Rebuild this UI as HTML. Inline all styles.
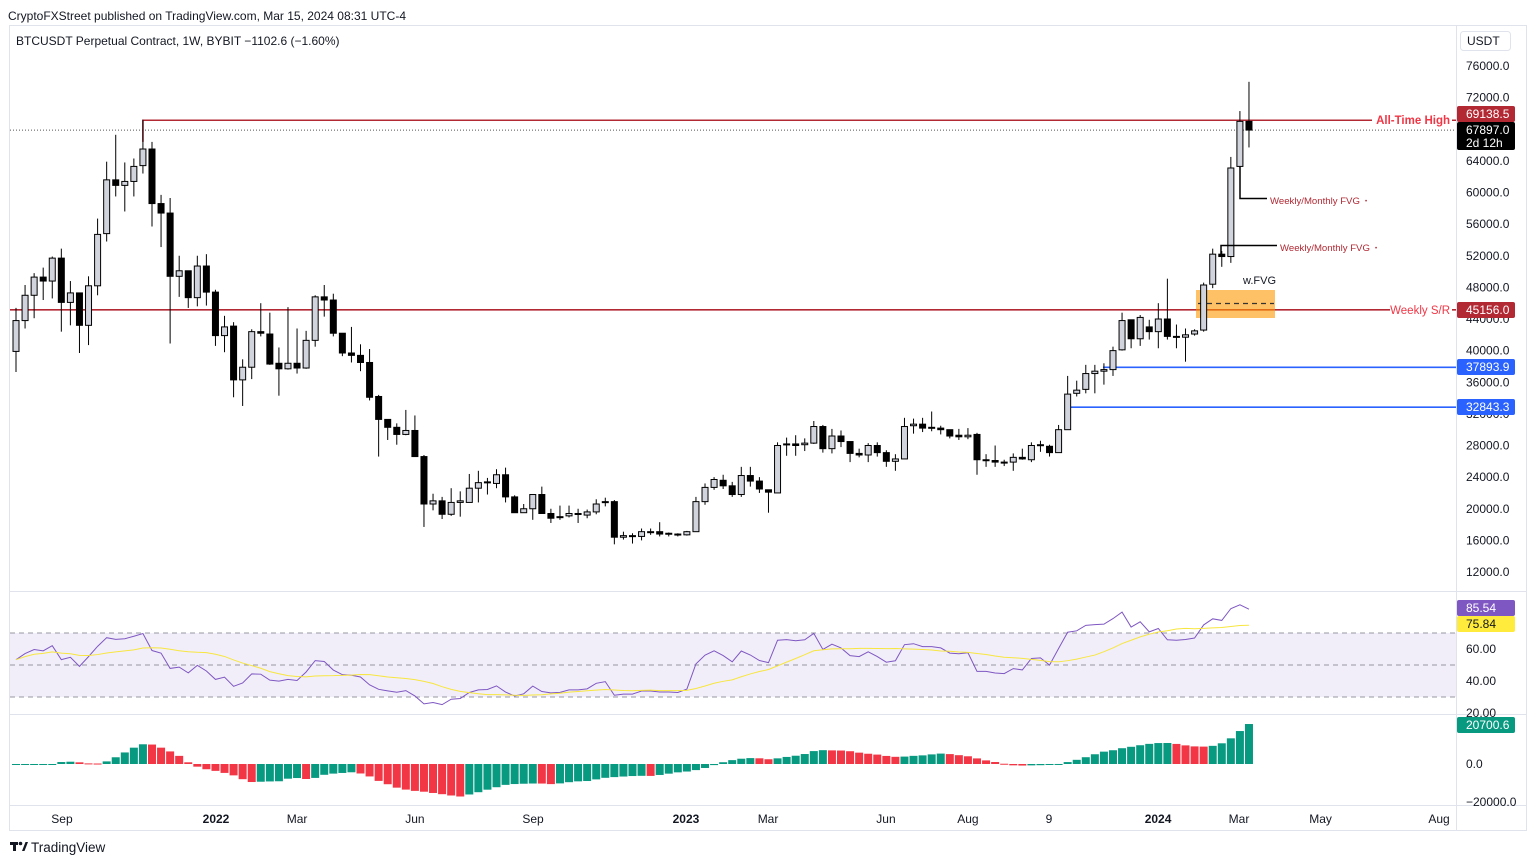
<!DOCTYPE html>
<html><head><meta charset="utf-8"><style>
html,body{margin:0;padding:0;background:#fff;}
svg{display:block;font-family:"Liberation Sans",sans-serif;}
</style></head><body>
<svg id="chart" width="1536" height="864" viewBox="0 0 1536 864" xmlns="http://www.w3.org/2000/svg">
<rect x="0" y="0" width="1536" height="864" fill="#fff"/>
<text x="8" y="20" font-size="12" fill="#131722">CryptoFXStreet published on TradingView.com, Mar 15, 2024 08:31 UTC-4</text>
<g stroke="#e0e3eb" stroke-width="1" fill="none">
<rect x="9.5" y="25.5" width="1517" height="805"/>
<line x1="1456.5" y1="25" x2="1456.5" y2="830"/>
<line x1="9" y1="591.5" x2="1527" y2="591.5"/>
<line x1="9" y1="714.5" x2="1527" y2="714.5"/>
<line x1="9" y1="805.5" x2="1527" y2="805.5"/>
</g>
<text x="16" y="45" font-size="12" fill="#131722">BTCUSDT Perpetual Contract, 1W, BYBIT  −1102.6 (−1.60%)</text>
<rect x="1460.5" y="31.5" width="50" height="19" rx="3" fill="#fff" stroke="#e0e3eb"/>
<text x="1467" y="45" font-size="12" fill="#131722">USDT</text>
<g id="rsi-band"></g>
<g id="main"></g>
<g id="rsi"></g>
<g id="ao"></g>
<g id="axes"></g>
<g id="labels"></g>
<g>
<rect x="10" y="842" width="8" height="3" fill="#131722"/>
<rect x="13" y="842" width="3" height="9" fill="#131722"/>
<circle cx="20.5" cy="843.5" r="1.8" fill="#131722"/>
<polygon points="22,851 25.5,842 28,842 24.5,851" fill="#131722"/>
<text x="31" y="852" font-size="13.5" fill="#131722">TradingView</text>
</g>
</svg>
<script>
const NS="http://www.w3.org/2000/svg";
const opens=[39.9,43.8,47.0,49.3,48.8,51.7,46.1,47.3,43.2,48.2,54.8,61.6,60.9,61.4,63.4,65.5,58.6,57.4,49.4,50.1,46.7,50.7,47.4,41.9,43.1,36.3,37.9,42.4,42.1,38.4,37.7,38.4,37.8,41.3,46.8,46.4,42.2,39.7,39.4,38.5,34.2,31.3,30.3,29.4,29.9,26.6,20.6,21.0,19.3,20.8,20.8,22.6,23.3,23.2,24.3,21.5,19.5,20.0,21.8,19.4,19.0,19.1,19.3,19.2,19.6,20.8,20.9,16.4,16.5,16.5,17.0,17.1,16.9,16.8,16.7,17.1,20.9,22.7,23.6,22.9,21.8,24.2,23.5,22.4,22.0,28.1,28.2,28.1,28.3,30.4,27.6,29.2,28.5,27.0,26.8,28.0,27.1,26.0,26.3,30.5,30.7,30.3,30.2,30.0,29.3,29.1,29.4,26.1,26.1,25.9,25.9,26.5,26.2,28.0,27.9,27.1,30.0,34.6,35.1,37.1,37.4,37.6,40.1,43.9,41.5,43.0,42.4,44.0,41.8,41.7,42.1,42.6,48.4,52.2,51.9,63.3,69.0];
const highs=[45.4,48.3,49.8,50.5,51.9,52.9,48.8,47.3,49.4,56.7,63.9,67.3,63.8,64.3,69.2,66.4,59.7,59.3,52.0,50.1,52.0,52.2,47.7,44.4,43.6,38.9,42.7,46.0,44.8,40.4,45.5,42.8,42.5,47.0,48.3,47.2,42.2,43.0,40.8,40.2,34.4,31.3,30.8,32.5,31.8,26.8,21.9,21.5,22.6,22.2,24.4,24.8,23.9,25.0,25.2,21.7,20.6,21.8,22.8,20.0,20.4,20.4,20.0,19.9,21.2,21.4,21.1,17.1,16.9,17.5,17.5,18.3,17.0,16.9,17.2,21.5,23.2,24.0,24.3,23.4,25.3,25.3,24.0,22.4,28.4,29.0,29.3,28.9,31.1,30.6,30.1,29.9,28.5,27.6,28.3,28.4,27.4,26.9,31.5,31.4,31.5,32.3,30.5,30.0,30.1,30.2,29.6,26.9,28.0,26.2,27.0,27.6,28.4,28.6,28.1,30.6,36.8,36.2,38.2,38.2,38.4,40.5,44.8,43.9,44.5,43.9,46.0,49.1,43.3,42.8,42.7,48.6,52.9,52.6,64.5,70.3,74.0];
const lows=[37.3,42.8,44.1,46.4,46.6,42.4,43.2,39.7,40.7,47.0,53.8,59.5,57.6,59.5,62.4,55.7,53.1,40.9,46.8,45.4,45.6,45.7,40.6,39.8,34.1,33.0,36.4,41.8,38.2,34.3,37.6,37.1,37.7,40.5,44.3,41.8,39.3,38.5,37.4,33.7,26.6,28.7,28.1,29.3,26.6,17.7,19.8,18.7,19.1,19.0,20.8,20.8,21.8,22.6,20.8,19.5,19.5,18.6,19.4,18.2,18.6,18.9,18.2,18.8,19.3,20.3,15.5,16.1,15.6,16.0,16.7,16.5,16.5,16.5,16.6,17.1,20.5,22.4,22.5,21.5,21.5,22.8,22.0,19.5,22.0,26.7,26.7,27.3,28.2,27.1,27.0,27.8,25.9,26.5,25.9,26.6,25.3,24.8,26.3,29.5,29.7,29.8,29.4,28.9,28.7,28.8,24.3,25.3,25.3,25.4,24.8,26.2,25.9,27.2,26.6,27.1,30.0,34.2,34.6,34.6,35.7,36.8,40.0,40.3,40.6,41.4,40.3,41.4,40.3,38.6,41.9,42.4,47.9,50.6,51.1,63.1,65.7];
const closes=[43.8,47.0,49.3,48.8,51.7,46.1,47.3,43.2,48.2,54.7,61.6,60.9,61.4,63.3,65.5,58.6,57.4,49.4,50.1,46.7,50.7,47.4,41.9,43.0,36.3,37.9,42.4,42.2,38.3,37.7,38.4,37.8,41.3,46.8,46.4,42.2,39.7,39.4,38.5,34.1,31.3,30.3,29.4,29.9,26.6,20.6,21.0,19.3,20.8,21.0,22.6,23.3,23.4,24.3,21.5,19.5,20.0,21.8,19.4,18.8,18.9,19.4,19.4,19.6,20.6,20.9,16.4,16.6,16.6,17.1,17.1,16.8,16.8,16.7,17.1,20.9,22.7,23.7,22.9,21.8,24.2,23.5,22.5,22.1,28.0,28.2,28.0,28.3,30.4,27.6,29.2,28.5,27.0,26.8,28.0,27.1,26.0,26.3,30.4,30.7,30.2,30.2,30.0,29.2,29.1,29.3,26.2,26.2,25.9,25.8,26.5,26.3,28.0,28.1,27.1,30.0,34.5,35.0,37.1,37.4,37.6,40.0,43.8,41.5,44.2,42.4,44.0,41.8,41.7,42.0,42.5,48.3,52.2,51.9,63.1,69.0,67.9];
const priceTicks=[76000,72000,68000,64000,60000,56000,52000,48000,44000,40000,36000,32000,28000,24000,20000,16000,12000];
const timeLabels=["Sep","2022","Mar","Jun","Sep","2023","Mar","Jun","Aug","9","2024","Mar","May","Aug"];
const timeIdx=[5.07,22.06,31.0,44.0,57.03,73.9,82.95,95.96,105.0,113.94,125.97,134.9,143.9,156.96];
const rsiTicks=[60,40,20];
const aoTicks=[0,-20000];

const X=i=>16+i*9.066;
const Y=p=>66+(76000-p)*506/64000;
const RY=v=>649+(60-v)*1.6;
const AY=v=>764-v*0.0019;
function mk(tag,attrs,parent){const e=document.createElementNS(NS,tag);for(const k in attrs)e.setAttribute(k,attrs[k]);parent.appendChild(e);return e;}
const main=document.getElementById('main'),rsiG=document.getElementById('rsi'),aoG=document.getElementById('ao'),axes=document.getElementById('axes'),labels=document.getElementById('labels');

const band=document.getElementById('rsi-band');
mk('rect',{x:10,y:RY(70),width:1446,height:RY(30)-RY(70),fill:'rgba(126,87,194,0.1)'},band);
[70,50,30].forEach(v=>{const l=mk('line',{x1:10,x2:1456,y1:RY(v),y2:RY(v),stroke:'#9598a1','stroke-dasharray':'5,4','stroke-width':1},band);

});

function hline(p,x1,color,name,dash){const l=mk('line',{x1:x1,x2:1456,y1:Y(p),y2:Y(p),stroke:color,'stroke-width':dash?1:1.6},main);if(dash)l.setAttribute('stroke-dasharray',dash);

}
hline(67897,10,'#555','current-price-line','1,2');
hline(45156,10,'#b22833','weekly-sr-line');
hline(37893.9,1103,'#2962ff','support-line-37893');
hline(32843.3,1068,'#2962ff','support-line-32843');
const ath=mk('polyline',{points:`${X(14)},${Y(66400)} ${X(14)},${Y(69138.5)} 1456,${Y(69138.5)}`,fill:'none',stroke:'#b22833','stroke-width':1.6},main);



const fvg=mk('rect',{x:1196,y:290,width:79,height:28,fill:'rgba(255,152,0,0.6)'},main);


mk('line',{x1:1198,x2:1274,y1:303.5,y2:303.5,stroke:'#333','stroke-dasharray':'5,4','stroke-width':1.2},main);

for(let i=0;i<closes.length;i++){
  const x=X(i),up=closes[i]>=opens[i];
  const w=mk('line',{x1:x,x2:x,y1:Y(highs[i]*1000),y2:Y(lows[i]*1000),stroke:'#000','stroke-width':1},main);
  
  
  const t=Y(Math.max(opens[i],closes[i])*1000),b=Y(Math.min(opens[i],closes[i])*1000);
  const r=mk('rect',{x:x-3,y:t,width:6,height:Math.max(1,b-t),fill:up?'#d1d4dc':'#000',stroke:'#000','stroke-width':1},main);
  
  
}

mk('polyline',{points:'1240,167 1240,198.5 1267,198.5',fill:'none',stroke:'#000','stroke-width':1.5},main);
mk('polyline',{points:'1221,255 1221,245.5 1277,245.5',fill:'none',stroke:'#000','stroke-width':1.5},main);
function txt(x,y,s,size,color,name,extra){const t=mk('text',Object.assign({x:x,y:y,'font-size':size,fill:color},extra||{}),main);t.textContent=s;

return t;}
txt(1270,204,'Weekly/Monthly FVG','9.6','#b22833','fvg-label-upper');
txt(1280,251,'Weekly/Monthly FVG','9.6','#b22833','fvg-label-lower');
txt(1365,203,'•','6','#b22833','fvg-dot-upper');
txt(1375,250,'•','6','#b22833','fvg-dot-lower');
txt(1243,284,'w.FVG','11','#131722','wfvg-label');
mk('rect',{x:1372,y:112,width:80,height:16,fill:'#fff'},main);
txt(1450,124,'All-Time High','11.5','#f23645','ath-label',{'font-weight':'bold','text-anchor':'end'});
mk('rect',{x:1390,y:302,width:62,height:16,fill:'#fff'},main);
txt(1450,314,'Weekly S/R','11.5','#f23645','weekly-sr-label',{'text-anchor':'end'});

const rsi=[];let ag=1.6,al=1.4;
for(let i=0;i<closes.length;i++){const d=i?closes[i]-closes[i-1]:0;ag=(ag*13+Math.max(d,0))/14;al=(al*13+Math.max(-d,0))/14;rsi.push(100-100/(1+ag/al));}
const rsiMa=rsi.map((v,i)=>{const s=rsi.slice(Math.max(0,i-13),i+1);return s.reduce((a,b)=>a+b,0)/s.length;});
const rl=mk('polyline',{points:rsi.map((v,i)=>X(i)+','+RY(v)).join(' '),fill:'none',stroke:'#7e57c2','stroke-width':1},rsiG);


const ml=mk('polyline',{points:rsiMa.map((v,i)=>X(i)+','+RY(v)).join(' '),fill:'none',stroke:'#f7e63f','stroke-width':1},rsiG);



const med=highs.map((h,i)=>(h+lows[i])/2*1000);
const sma=(n,i)=>{const s=med.slice(Math.max(0,i-n+1),i+1);return s.reduce((a,b)=>a+b,0)/s.length;};
const ao=med.map((_,i)=>sma(5,i)-sma(34,i));
for(let i=0;i<ao.length;i++){
  const v=ao[i],y0=AY(0),y1=AY(v),col=(i===0||v>=ao[i-1])?'#089981':'#f23645';
  const r=mk('rect',{x:X(i)-4,y:Math.min(y0,y1),width:8,height:Math.max(1,Math.abs(y1-y0)),fill:col},aoG);
  
  
}

priceTicks.forEach(p=>{const t=mk('text',{x:1466,y:Y(p)+4,'font-size':12,fill:'#131722'},axes);t.textContent=p.toFixed(1);

});
rsiTicks.forEach(v=>{const t=mk('text',{x:1466,y:RY(v)+4,'font-size':12,fill:'#131722'},axes);t.textContent=v.toFixed(2);

});
aoTicks.forEach(v=>{const t=mk('text',{x:1466,y:AY(v)+4,'font-size':12,fill:'#131722'},axes);t.textContent=(v<0?'−'+Math.abs(v):v).toString()+'.0';

});
timeLabels.forEach((s,k)=>{const bold=/^\d{4}$/.test(s);const t=mk('text',{x:X(timeIdx[k]),y:823,'font-size':12,fill:'#131722','text-anchor':'middle','font-weight':bold?'bold':'normal'},axes);t.textContent=s;

});

function box(y,h,bg,fg,lines,name){const r=mk('rect',{x:1457,y:y,width:58,height:h,rx:2,fill:bg},labels);


lines.forEach((s,k)=>{const t=mk('text',{x:1466,y:y+12+k*13,'font-size':12,fill:fg},labels);t.textContent=s;});}
box(106,16,'#b22833','#fff',['69138.5'],'ath-price-label');
box(122,28,'#000','#fff',['67897.0','2d 12h'],'current-price-label');
box(302,16,'#b22833','#fff',['45156.0'],'weekly-sr-price-label');
box(359,16,'#2962ff','#fff',['37893.9'],'support-price-label-37893');
box(399,16,'#2962ff','#fff',['32843.3'],'support-price-label-32843');
box(600,16,'#7e57c2','#fff',['85.54'],'rsi-value-label');
box(616,16,'#ffeb3b','#131722',['75.84'],'rsi-ma-value-label');
box(717,16,'#089981','#fff',['20700.6'],'ao-value-label');
</script>
</body></html>
